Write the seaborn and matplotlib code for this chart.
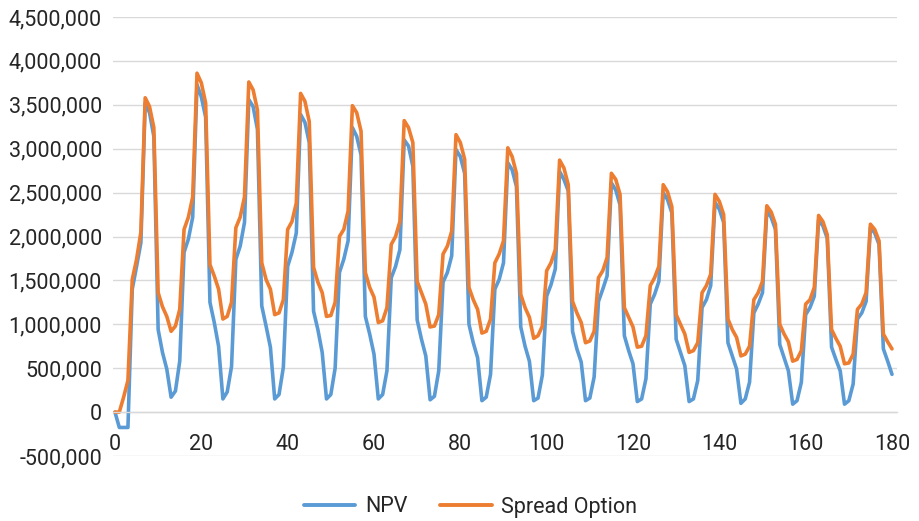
import numpy as np
import pandas as pd
import matplotlib
matplotlib.use("Agg")
import matplotlib.pyplot as plt
import seaborn as sns
from matplotlib.ticker import FuncFormatter

# ---- data ----
periods = list(range(0, 181))

npv = [
    0, -175000, -175000, -175000, 1400000, 1660000, 1930000, 3520000, 3410000, 3140000, 940000, 680000, 490000,
    170000, 240000, 580000, 1820000, 1970000, 2220000, 3730000, 3590000, 3360000, 1250000, 1020000, 750000,
    150000, 230000, 520000, 1740000, 1890000, 2160000, 3560000, 3480000, 3220000, 1210000, 980000, 740000,
    150000, 200000, 510000, 1660000, 1820000, 2040000, 3390000, 3300000, 3070000, 1150000, 940000, 680000,
    150000, 200000, 500000, 1590000, 1740000, 1950000, 3240000, 3140000, 2930000, 1090000, 890000, 660000,
    150000, 200000, 470000, 1530000, 1660000, 1850000, 3100000, 3030000, 2800000, 1050000, 830000, 640000,
    140000, 180000, 470000, 1480000, 1590000, 1780000, 2990000, 2910000, 2720000, 1000000, 790000, 620000,
    130000, 170000, 430000, 1400000, 1510000, 1700000, 2840000, 2760000, 2570000, 970000, 750000, 580000,
    130000, 160000, 420000, 1320000, 1450000, 1630000, 2740000, 2650000, 2520000, 920000, 720000, 570000,
    130000, 160000, 400000, 1260000, 1400000, 1550000, 2610000, 2530000, 2360000, 870000, 700000, 550000,
    120000, 150000, 380000, 1230000, 1340000, 1490000, 2500000, 2420000, 2270000, 830000, 680000, 530000,
    120000, 150000, 360000, 1190000, 1280000, 1440000, 2390000, 2310000, 2160000, 790000, 640000, 490000,
    100000, 150000, 340000, 1130000, 1230000, 1360000, 2290000, 2220000, 2080000, 770000, 620000, 470000,
    90000, 130000, 340000, 1110000, 1190000, 1320000, 2190000, 2120000, 1980000, 740000, 600000, 470000,
    90000, 130000, 320000, 1060000, 1130000, 1260000, 2100000, 2040000, 1910000, 720000, 580000, 430000,
]

spread_option = [
    0, 0, 170000, 360000, 1510000, 1740000, 2050000, 3580000, 3480000, 3240000, 1360000, 1200000, 1090000,
    920000, 980000, 1170000, 2080000, 2220000, 2450000, 3860000, 3750000, 3520000, 1680000, 1550000, 1400000,
    1060000, 1090000, 1250000, 2100000, 2220000, 2450000, 3760000, 3670000, 3440000, 1700000, 1510000, 1400000,
    1110000, 1130000, 1280000, 2080000, 2170000, 2380000, 3630000, 3540000, 3310000, 1650000, 1480000, 1360000,
    1090000, 1100000, 1250000, 2000000, 2080000, 2290000, 3490000, 3410000, 3200000, 1590000, 1420000, 1310000,
    1020000, 1040000, 1190000, 1910000, 2000000, 2170000, 3320000, 3240000, 3070000, 1490000, 1360000, 1230000,
    970000, 980000, 1110000, 1800000, 1890000, 2060000, 3160000, 3070000, 2880000, 1420000, 1280000, 1170000,
    900000, 920000, 1060000, 1700000, 1800000, 1950000, 3010000, 2910000, 2720000, 1340000, 1190000, 1080000,
    840000, 870000, 980000, 1610000, 1700000, 1850000, 2870000, 2780000, 2590000, 1260000, 1130000, 1020000,
    790000, 810000, 920000, 1530000, 1610000, 1760000, 2720000, 2650000, 2480000, 1190000, 1080000, 970000,
    740000, 750000, 870000, 1440000, 1530000, 1660000, 2590000, 2510000, 2340000, 1110000, 1000000, 890000,
    680000, 700000, 790000, 1360000, 1440000, 1570000, 2480000, 2400000, 2250000, 1060000, 940000, 850000,
    640000, 660000, 750000, 1280000, 1360000, 1490000, 2350000, 2280000, 2140000, 1000000, 890000, 800000,
    580000, 600000, 700000, 1230000, 1280000, 1420000, 2240000, 2170000, 2020000, 940000, 840000, 750000,
    550000, 560000, 660000, 1170000, 1230000, 1360000, 2140000, 2080000, 1950000, 890000, 800000, 720000,
]

series_names = ["NPV", "Spread Option"]
x_ticks = list(range(0, 181, 20))
y_ticks = list(range(-500000, 4500001, 500000))

df = pd.DataFrame({
    "Period": periods * 2,
    "Value": npv + spread_option,
    "Series": [series_names[0]] * len(periods) + [series_names[1]] * len(periods),
})

# ---- style ----
sns.set_theme(style="white")
plt.rcParams["font.family"] = ["Roboto", "DejaVu Sans"]
text_color = "#262626"
grid_color = "#d9d9d9"

fig = plt.figure(figsize=(9.19, 5.21), dpi=100)
W, H = 919, 521
ax = fig.add_axes([113 / W, 1 - 456 / H, (897 - 113) / W, (456 - 17) / H])

palette = {"NPV": "#5B9BD5", "Spread Option": "#ED7D31"}
sns.lineplot(data=df, x="Period", y="Value", hue="Series", palette=palette,
             linewidth=2.6, ax=ax, legend=True)
for line in ax.get_lines():
    line.set_solid_joinstyle("round")
    line.set_solid_capstyle("round")

ax.set_xlim(-0.46, 181.16)
ax.set_ylim(-500000, 4500000)
ax.set_yticks(y_ticks)
ax.set_xticks(x_ticks)
ax.yaxis.set_major_formatter(FuncFormatter(lambda v, p: f"{int(v):,}"))
ax.set_xlabel("")
ax.set_ylabel("")

ax.grid(axis="y", color=grid_color, linewidth=1.0)
ax.grid(axis="x", visible=False)
ax.set_axisbelow(True)
for s in ["top", "right", "left"]:
    ax.spines[s].set_visible(False)
ax.spines["bottom"].set_position(("data", 0))
ax.spines["bottom"].set_color(grid_color)
ax.spines["bottom"].set_linewidth(1.0)

ax.tick_params(axis="y", length=0, pad=8, labelsize=15.5, labelcolor=text_color)
ax.tick_params(axis="x", length=0, pad=16, labelsize=15.5, labelcolor=text_color)

handles, labels = ax.get_legend_handles_labels()
ax.legend_.remove()
leg = fig.legend(handles, labels, loc="center", bbox_to_anchor=(0.512, 1 - 507 / H),
                 ncol=2, frameon=False, fontsize=15.5, handlelength=2.4,
                 handletextpad=0.45, columnspacing=1.5)
for t in leg.get_texts():
    t.set_color(text_color)
for l in leg.get_lines():
    l.set_linewidth(2.8)

fig.savefig("out.png", dpi=100)
